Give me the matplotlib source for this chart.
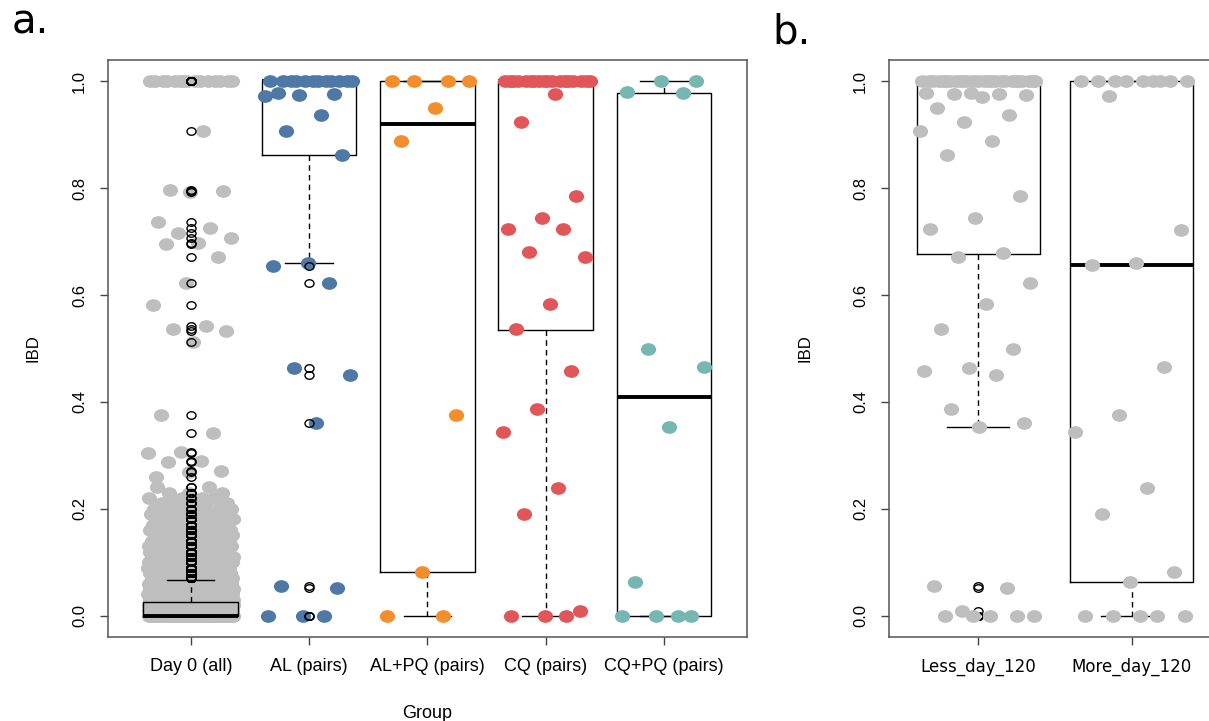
import numpy as np
import matplotlib.pyplot as plt
from matplotlib.path import Path
from matplotlib.transforms import Affine2D

# ---- panel a data ----
groups_a = ["Day 0 (all)", "AL (pairs)", "AL+PQ (pairs)", "CQ (pairs)", "CQ+PQ (pairs)"]
colors_a = ["#bebebe", "#4e79a7", "#f28e2b", "#e15759", "#76b7b2"]

# Day 0: the sparse high values, then the dense low part as value levels + counts
day0_high = [1.0, 1.0, 1.0, 1.0, 1.0, 1.0, 1.0, 1.0, 1.0, 1.0, 1.0, 1.0, 1.0, 1.0, 1.0,
             0.908, 0.797, 0.794, 0.792, 0.736, 0.726, 0.716, 0.706, 0.697, 0.695,
             0.671, 0.622, 0.581, 0.542, 0.537, 0.532, 0.513, 0.375, 0.342,
             0.306, 0.305, 0.29, 0.288, 0.27, 0.268, 0.26]
day0_levels = [0.00, 0.01, 0.02, 0.03, 0.04, 0.05, 0.06, 0.07, 0.08, 0.09, 0.10, 0.11,
               0.12, 0.13, 0.14, 0.15, 0.16, 0.17, 0.18, 0.19, 0.20, 0.21, 0.22, 0.23, 0.24]
day0_counts = [70, 55, 48, 42, 38, 34, 30, 27, 24, 22, 20, 18,
               17, 16, 15, 14, 13, 12, 11, 9, 7, 5, 4, 3, 2]

al = [1.0, 1.0, 1.0, 1.0, 1.0, 1.0, 1.0, 1.0, 1.0, 1.0, 1.0, 1.0,
      0.978, 0.976, 0.974, 0.972, 0.9375, 0.908, 0.863, 0.66, 0.655, 0.622,
      0.464, 0.45, 0.361, 0.056, 0.051, 0.0, 0.0, 0.0]
alpq = [1.0, 1.0, 1.0, 1.0, 0.951, 0.889, 0.375, 0.082, 0.0, 0.0]
cq = [1.0, 1.0, 1.0, 1.0, 1.0, 1.0, 1.0, 1.0, 1.0, 1.0, 1.0, 1.0, 1.0, 1.0, 1.0, 1.0, 1.0, 1.0,
      0.976, 0.924, 0.785, 0.745, 0.724, 0.723, 0.681, 0.672, 0.583, 0.537,
      0.458, 0.386, 0.344, 0.238, 0.191, 0.009, 0.0, 0.0, 0.0]
cqpq = [1.0, 1.0, 0.98, 0.978, 0.5, 0.466, 0.354, 0.063, 0.0, 0.0, 0.0, 0.0]

# box stats (R boxplot hinges)
q1_a = [0.0, 0.862, 0.082, 0.535, 0.0]
med_a = [0.0, 1.0, 0.92, 1.0, 0.41]
q3_a = [0.026, 1.0, 1.0, 1.0, 0.978]
lo_a = [0.0, 0.66, 0.0, 0.0, 0.0]
hi_a = [0.067, 1.0, 1.0, 1.0, 1.0]

# ---- panel b data ----
groups_b = ["Less_day_120", "More_day_120"]
less = [1.0] * 26 + [0.978, 0.978, 0.977, 0.976, 0.975, 0.971, 0.951, 0.9375, 0.924, 0.908,
                     0.889, 0.862, 0.785, 0.744, 0.724, 0.679, 0.672, 0.622, 0.583, 0.537,
                     0.5, 0.464, 0.458, 0.45, 0.386, 0.361, 0.354, 0.056, 0.051, 0.009,
                     0.0, 0.0, 0.0, 0.0, 0.0]
more = [1.0] * 9 + [0.973, 0.721, 0.66, 0.656, 0.466, 0.375, 0.344, 0.238, 0.191,
                    0.082, 0.063, 0.0, 0.0, 0.0, 0.0, 0.0]
q1_b = [0.677, 0.063]
med_b = [1.0, 0.656]
q3_b = [1.0, 1.0]
lo_b = [0.354, 0.0]
hi_b = [1.0, 1.0]

# slightly wide dots, the original picture is stretched sideways
ell = Path.unit_circle().transformed(Affine2D().scale(1.2, 1.0))
TICKFONT = "Liberation Sans"


def spread(n, seed, half=0.38):
    # deterministic jitter (golden ratio sequence) inside +-half
    k = np.arange(n)
    return ((k * 0.6180339887 + seed) % 1.0 - 0.5) * 2 * half


def stats(vals, q1, med, q3, lo, hi):
    v = np.asarray(vals)
    return dict(q1=q1, med=med, q3=q3, whislo=lo, whishi=hi,
                fliers=v[(v < lo) | (v > hi)])


def draw_group(ax, pos, vals, color, st, box_on_top, fliers_on_top, half=0.38):
    v = np.asarray(vals)
    ax.scatter(pos + spread(len(v), pos * 0.37, half), v, s=120, marker=ell,
               color=color, linewidths=0, zorder=3)
    art = ax.bxp([st], positions=[pos], widths=0.8, capwidths=0.4,
                 boxprops=dict(color="black", lw=1.0),
                 whiskerprops=dict(color="black", lw=1.0, linestyle=(0, (4, 3))),
                 capprops=dict(color="black", lw=1.0),
                 medianprops=dict(color="black", lw=2.8, solid_capstyle="butt"),
                 flierprops=dict(marker=ell, markersize=6.5, markerfacecolor="none",
                                 markeredgecolor="black", markeredgewidth=1.0),
                 manage_ticks=False, zorder=4 if box_on_top else 2)
    for f in art["fliers"]:
        f.set_zorder(4 if fliers_on_top else 2)


def style(ax, labels, xfont, xsize):
    ax.set_ylim(-0.04, 1.04)
    ax.set_yticks([0.0, 0.2, 0.4, 0.6, 0.8, 1.0])
    ax.set_yticklabels(["0.0", "0.2", "0.4", "0.6", "0.8", "1.0"], rotation=90,
                       va="center", family=TICKFONT, fontsize=12)
    ax.set_xticks(range(1, len(labels) + 1))
    ax.set_xticklabels(labels, family=xfont, fontsize=xsize)
    ax.tick_params(direction="out", length=6, width=1, color="#444444", pad=9)
    for sp in ax.spines.values():
        sp.set_color("#555555")
        sp.set_linewidth(1.1)
    ax.set_ylabel("IBD", family=TICKFONT, fontsize=12)


fig = plt.figure(figsize=(12.09, 7.21), dpi=100)
W, H = 1209, 721
ax1 = fig.add_axes([108 / W, 1 - 637 / H, (747 - 108) / W, (637 - 60) / H])
ax2 = fig.add_axes([889 / W, 1 - 637 / H, (1221 - 889) / W, (637 - 60) / H])

day0 = np.concatenate([day0_high, np.repeat(day0_levels, day0_counts)])
data_a = [day0, al, alpq, cq, cqpq]
for i, vals in enumerate(data_a):
    st = stats(vals, q1_a[i], med_a[i], q3_a[i], lo_a[i], hi_a[i])
    draw_group(ax1, i + 1, vals, colors_a[i], st, box_on_top=(i == 0), fliers_on_top=True,
               half=0.36 if i == 0 else 0.38)
ax1.set_xlim(0.3, 5.7)
style(ax1, groups_a, TICKFONT, 13)
ax1.yaxis.set_label_coords(-0.105, 0.5)
ax1.set_xlabel("Group", family=TICKFONT, fontsize=13)
ax1.xaxis.set_label_coords(0.5, -0.117)

data_b = [less, more]
for i, vals in enumerate(data_b):
    st = stats(vals, q1_b[i], med_b[i], q3_b[i], lo_b[i], hi_b[i])
    draw_group(ax2, i + 1, vals, "#bebebe", st, box_on_top=False, fliers_on_top=False)
ax2.set_xlim(0.42, 2.58)
style(ax2, groups_b, "DejaVu Sans", 12)
ax2.yaxis.set_label_coords(-0.23, 0.5)

fig.text(12 / W, 1 - 33 / H, "a.", fontsize=29, family="DejaVu Sans", va="baseline")
fig.text(772 / W, 1 - 43 / H, "b.", fontsize=29, family="DejaVu Sans", va="baseline")

fig.savefig("out.png", dpi=100)
